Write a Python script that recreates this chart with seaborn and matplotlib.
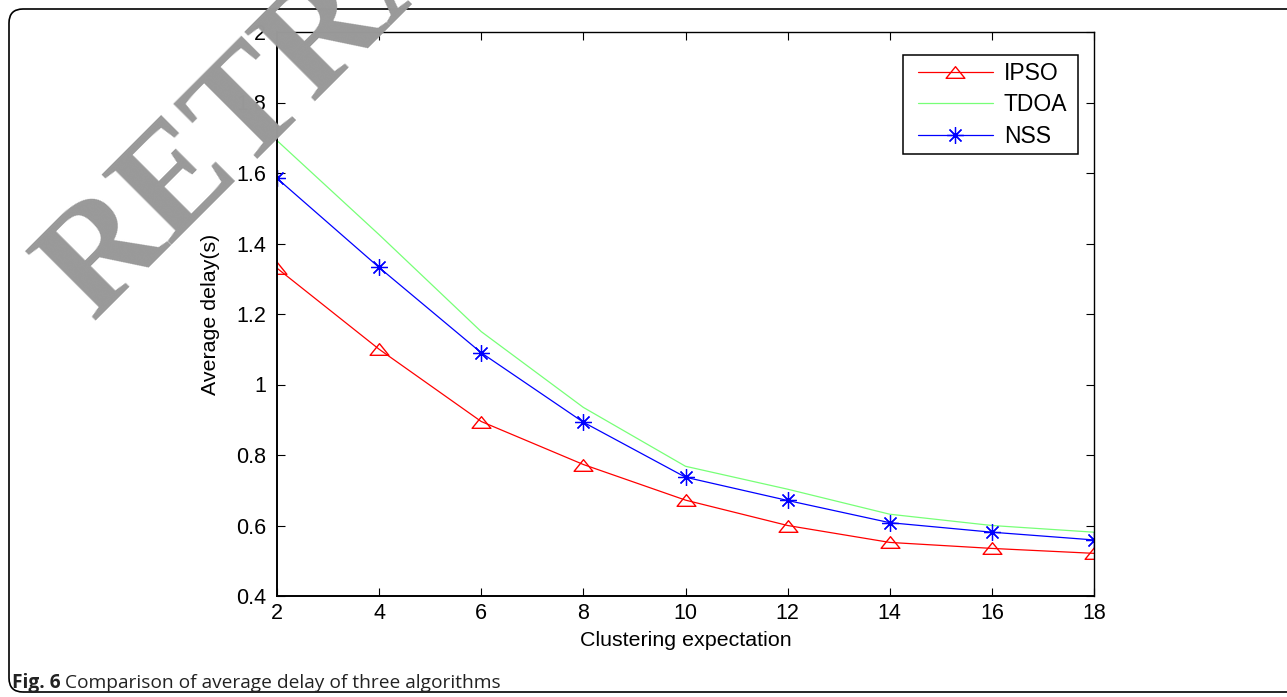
import numpy as np
import pandas as pd
import matplotlib
matplotlib.use("Agg")
import matplotlib.pyplot as plt
import seaborn as sns
from matplotlib.patches import FancyBboxPatch, Rectangle
from matplotlib.transforms import IdentityTransform
from matplotlib.path import Path
from matplotlib.ticker import FuncFormatter

# ---- data ----
cluster_exp = [2, 4, 6, 8, 10, 12, 14, 16, 18]
ipso = [1.33, 1.10, 0.895, 0.773, 0.672, 0.600, 0.552, 0.535, 0.521]
tdoa = [1.692, 1.425, 1.150, 0.935, 0.768, 0.703, 0.632, 0.600, 0.581]
nss = [1.585, 1.332, 1.090, 0.893, 0.737, 0.671, 0.608, 0.581, 0.559]
yticks = [0.4, 0.6, 0.8, 1.0, 1.2, 1.4, 1.6, 1.8, 2.0]
xticks = [2, 4, 6, 8, 10, 12, 14, 16, 18]
series_names = ["IPSO", "TDOA", "NSS"]

sns.set_theme(style="white")
plt.rcParams["font.family"] = ["Liberation Sans", "DejaVu Sans"]

W, H = 1287, 697
fig = plt.figure(figsize=(W / 100, H / 100), dpi=100)
ax = fig.add_axes([277 / W, 1 - 596 / H, (1094 - 277) / W, (596 - 32) / H])

tri = Path([(-1, -0.62), (1, -0.62), (0, 0.62), (-1, -0.62)],
           [Path.MOVETO, Path.LINETO, Path.LINETO, Path.CLOSEPOLY])

sns.lineplot(x=cluster_exp, y=ipso, ax=ax, color="#ff0000", lw=0.9,
             marker=tri, ms=13.5, mfc="none", mec="#ff0000", mew=1.0,
             label=series_names[0])
sns.lineplot(x=cluster_exp, y=tdoa, ax=ax, color="#77ff77", lw=0.9,
             label=series_names[1])
sns.lineplot(x=cluster_exp, y=nss, ax=ax, color="#0000ff", lw=0.9,
             marker=(8, 2, 0), ms=12, mec="#0000ff", mew=0.9,
             label=series_names[2])

ax.set_xlim(2, 18)
ax.set_ylim(0.4, 2.0)
ax.set_xticks(xticks)
ax.set_yticks(yticks)
ax.yaxis.set_major_formatter(FuncFormatter(lambda v, p: f"{v:g}"))
ax.tick_params(direction="in", length=6, width=0.8, top=True, right=True,
               bottom=True, left=True, labelsize=15.5, colors="black")
ax.tick_params(axis="y", pad=8)
ax.tick_params(axis="x", pad=5)
for s in ax.spines.values():
    s.set_visible(True)
    s.set_color("black")
    s.set_linewidth(1.0)
ax.spines["left"].set_linewidth(1.4)
ax.spines["bottom"].set_linewidth(1.4)
ax.set_xlabel("Clustering expectation", fontsize=15.4, color="black", labelpad=5)
ax.set_ylabel("Average delay(s)", fontsize=15.4, color="black", labelpad=11)
ax.grid(False)
ax.set_facecolor("white")

leg = ax.legend(loc="upper left", bbox_to_anchor=(918 / W, 1 - 62 / H),
                bbox_transform=fig.transFigure, borderaxespad=0,
                borderpad=0, frameon=False,
                fontsize=16.5, handlelength=3.27, handletextpad=0.48,
                labelspacing=0.37)
for t in leg.get_texts():
    t.set_color("black")

# legend box (MATLAB style)
fig.add_artist(Rectangle((903, H - 154), 1078 - 903, 154 - 55,
                         transform=IdentityTransform(), fill=False,
                         edgecolor="black", linewidth=1.1, zorder=5))

# rounded border of the figure panel
border = FancyBboxPatch((9, 5), 1320, 683,
                        boxstyle="round,pad=0,rounding_size=14",
                        transform=IdentityTransform(), fill=False,
                        edgecolor="black", linewidth=1.2, zorder=0)
fig.add_artist(border)

# caption
cap1 = fig.text(12 / W, 1 - 688 / H, "Fig. 6", fontsize=13.8, fontweight="bold",
                family=["Open Sans", "DejaVu Sans"], color="#222222",
                ha="left", va="baseline")
fig.canvas.draw()
r = fig.canvas.get_renderer()
bb = cap1.get_window_extent(renderer=r)
fig.text((bb.x1 + 4) / W, 1 - 688 / H,
         "Comparison of average delay of three algorithms", fontsize=13.8,
         family=["Open Sans", "DejaVu Sans"], color="#222222",
         ha="left", va="baseline")

# watermark
fig.text(93 / W, 1 - 321 / H, "RETRACTED", rotation=45, fontsize=109,
         fontweight="bold",
         family=["Liberation Serif", "DejaVu Serif"], color="#999999",
         ha="left", va="baseline", rotation_mode="anchor", zorder=10)

fig.savefig("out.png", dpi=100)
